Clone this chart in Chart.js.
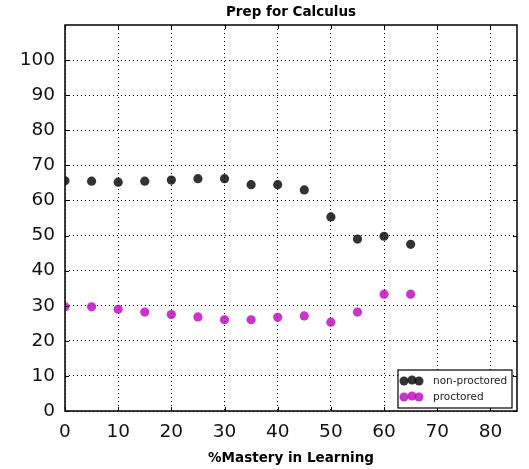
<!DOCTYPE html>
<html>
<head>
<meta charset="utf-8">
<script src="https://cdn.jsdelivr.net/npm/chart.js@4.4.0/dist/chart.umd.min.js"></script>
<style>
  html, body { margin: 0; padding: 0; background: #fff; }
</style>
</head>
<body>
<canvas id="chartCanva" width="529" height="469"></canvas>
<script>
// Values
const masteryLevels = [0, 5, 10, 15, 20, 25, 30, 35, 40, 45, 50, 55, 60, 65];
const nonProctored = [65.6, 65.5, 65.2, 65.5, 65.8, 66.2, 66.2, 64.5, 64.5, 63.0, 55.3, 49.0, 49.8, 47.5];
const proctored = [29.7, 29.7, 29.0, 28.2, 27.5, 26.8, 26.0, 26.0, 26.7, 27.1, 25.3, 28.2, 33.3, 33.3];
const seriesNames = ["non-proctored", "proctored"];
const seriesColors = ["rgba(0,0,0,0.8)", "rgba(191,0,191,0.8)"];
const xTickValues = [0, 10, 20, 30, 40, 50, 60, 70, 80];
const yTickValues = [0, 10, 20, 30, 40, 50, 60, 70, 80, 90, 100];

function makePoints(xs, ys) {
    let points = [];
    for (let i = 0; i < xs.length; i++) {
        points.push({ x: xs[i], y: ys[i] });
    }
    return points;
}

// draws the frame, inward ticks, titles and the legend box (matplotlib look)
const decorations = {
    id: "decorations",
    afterDraw(chart) {
        const ctx = chart.ctx;
        const area = chart.chartArea;
        const xs = chart.scales.x;
        const ys = chart.scales.y;
        ctx.save();
        // inward ticks
        ctx.strokeStyle = "#000";
        ctx.lineWidth = 1;
        ctx.beginPath();
        for (const v of xTickValues) {
            const px = Math.round(xs.getPixelForValue(v)) + 0.5;
            ctx.moveTo(px, area.bottom); ctx.lineTo(px, area.bottom - 4);
            ctx.moveTo(px, area.top); ctx.lineTo(px, area.top + 4);
        }
        for (const v of yTickValues) {
            const py = Math.round(ys.getPixelForValue(v)) + 0.5;
            ctx.moveTo(area.left, py); ctx.lineTo(area.left + 4, py);
            ctx.moveTo(area.right, py); ctx.lineTo(area.right - 4, py);
        }
        ctx.stroke();
        // frame
        ctx.lineWidth = 1.5;
        ctx.strokeRect(area.left, area.top, area.right - area.left, area.bottom - area.top);
        // titles
        ctx.fillStyle = "#000";
        ctx.textAlign = "center";
        ctx.textBaseline = "middle";
        ctx.font = "bold 13.5px 'DejaVu Sans'";
        ctx.fillText("Prep for Calculus", (area.left + area.right) / 2, 12);
        ctx.fillText("%Mastery in Learning", (area.left + area.right) / 2, 458);
        // legend box
        const bx = area.right - 119, by = area.bottom - 41, bw = 114, bh = 38;
        ctx.fillStyle = "#fff";
        ctx.fillRect(bx, by, bw, bh);
        ctx.lineWidth = 1.2;
        ctx.strokeStyle = "#000";
        ctx.strokeRect(bx, by, bw, bh);
        ctx.font = "10.5px 'DejaVu Sans'";
        ctx.textAlign = "left";
        for (let i = 0; i < seriesNames.length; i++) {
            const cy = by + 11 + i * 16;
            ctx.fillStyle = seriesColors[i];
            for (const dx of [6, 14, 21]) {
                ctx.beginPath();
                ctx.arc(bx + dx, cy + (dx == 14 ? -1 : 0), 4.5, 0, Math.PI * 2);
                ctx.fill();
            }
            ctx.fillStyle = "#222";
            ctx.fillText(seriesNames[i], bx + 35, cy);
        }
        ctx.restore();
    }
};

const chart = new Chart(document.querySelector("#chartCanva"), {
    type: "scatter",
    data: {
        datasets: [
            {
                label: seriesNames[0],
                data: makePoints(masteryLevels, nonProctored),
                backgroundColor: seriesColors[0],
                borderWidth: 0,
                pointRadius: 4.6,
                pointHoverRadius: 4.6
            },
            {
                label: seriesNames[1],
                data: makePoints(masteryLevels, proctored),
                backgroundColor: seriesColors[1],
                borderWidth: 0,
                pointRadius: 4.6,
                pointHoverRadius: 4.6
            }
        ]
    },
    options: {
        responsive: false,
        animation: false,
        layout: { padding: { top: 25, right: 12, left: 0, bottom: 0 } },
        plugins: {
            legend: { display: false },
            title: { display: false },
            tooltip: { enabled: false }
        },
        scales: {
            x: {
                type: "linear",
                min: 0,
                max: 85,
                afterBuildTicks: (scale) => { scale.ticks = xTickValues.map((v) => ({ value: v })); },
                afterFit: (scale) => { scale.height = 58; },
                border: { display: false, dash: [1, 3] },
                grid: { color: "#000", lineWidth: 1, drawTicks: false },
                ticks: { color: "#111", font: { family: "DejaVu Sans", size: 18.5 }, padding: 10, maxRotation: 0 }
            },
            y: {
                type: "linear",
                min: 0,
                max: 110,
                afterBuildTicks: (scale) => { scale.ticks = yTickValues.map((v) => ({ value: v })); },
                afterFit: (scale) => { scale.width = 65; },
                border: { display: false, dash: [1, 3] },
                grid: { color: "#000", lineWidth: 1, drawTicks: false },
                ticks: { color: "#111", font: { family: "DejaVu Sans", size: 18.5 }, padding: 10 }
            }
        }
    },
    plugins: [decorations]
});
</script>
</body>
</html>
